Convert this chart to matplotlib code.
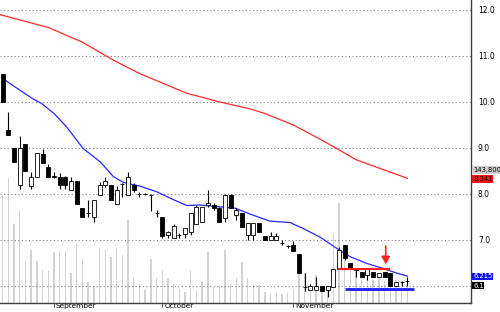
import matplotlib
matplotlib.use("Agg")
import matplotlib.pyplot as plt
import matplotlib.transforms as mtransforms

# daily candles (Aug -> Nov)
opens = [10.60, 9.39, 8.99, 8.20, 9.08, 8.18, 8.38, 8.88, 8.58, 8.40,
         8.38, 8.38, 8.09, 8.29, 7.69, 7.58, 7.49, 7.98, 8.20, 8.20,
         7.78, 8.22, 7.98, 8.20, 8.00, 8.00, 7.98, 7.58, 7.49, 7.10,
         7.05, 7.10, 7.12, 7.18, 7.35, 7.40, 7.75, 7.76, 7.69, 7.47,
         7.98, 7.55, 7.58, 7.11, 7.11, 7.38, 7.09, 7.00, 7.00, 6.93,
         6.88, 6.89, 6.69, 5.98, 5.91, 5.92, 5.99, 5.92, 5.98, 6.38,
         6.89, 6.49, 6.35, 6.31, 6.24, 6.31, 6.20, 6.31, 6.28, 6.00,
         6.09, 6.10]
highs = [10.60, 9.79, 8.99, 9.26, 9.08, 8.47, 8.90, 8.98, 8.65, 8.47,
         8.45, 8.40, 8.38, 8.29, 7.69, 7.87, 7.88, 8.25, 8.38, 8.20,
         8.17, 8.24, 8.47, 8.24, 8.05, 8.03, 8.00, 7.65, 7.49, 7.20,
         7.35, 7.15, 7.27, 7.58, 7.76, 7.72, 8.08, 7.80, 7.72, 8.01,
         8.00, 7.70, 7.58, 7.38, 7.38, 7.38, 7.09, 7.18, 7.15, 7.00,
         6.90, 6.98, 6.69, 6.28, 6.05, 6.20, 5.99, 6.00, 6.38, 6.85,
         6.89, 6.49, 6.38, 6.31, 6.38, 6.31, 6.28, 6.31, 6.28, 6.08,
         6.10, 6.20]
lows = [10.00, 9.28, 8.69, 8.10, 8.49, 8.10, 8.38, 8.67, 8.38, 8.35,
        8.10, 8.10, 8.09, 7.78, 7.49, 7.51, 7.40, 7.98, 8.16, 7.87,
        7.78, 7.94, 7.98, 8.05, 7.94, 7.97, 7.62, 7.50, 7.05, 7.05,
        7.05, 7.05, 7.05, 7.10, 7.35, 7.40, 7.72, 7.66, 7.40, 7.40,
        7.69, 7.43, 7.29, 7.00, 7.00, 7.18, 7.00, 7.00, 7.00, 6.90,
        6.82, 6.75, 6.28, 5.90, 5.91, 5.92, 5.90, 5.77, 5.98, 6.38,
        6.57, 6.38, 6.20, 6.20, 6.13, 6.20, 6.20, 6.20, 5.99, 6.00,
        6.00, 5.99]
closes = [10.00, 9.28, 8.69, 8.99, 8.49, 8.38, 8.90, 8.67, 8.38, 8.38,
          8.20, 8.20, 8.29, 7.78, 7.49, 7.58, 7.88, 8.19, 8.28, 7.87,
          8.09, 8.22, 8.38, 8.09, 8.00, 8.00, 7.98, 7.58, 7.09, 7.18,
          7.30, 7.10, 7.25, 7.58, 7.72, 7.72, 7.80, 7.69, 7.40, 7.98,
          7.69, 7.65, 7.29, 7.38, 7.38, 7.18, 7.00, 7.09, 7.09, 6.93,
          6.88, 6.75, 6.28, 5.98, 6.00, 6.00, 5.90, 6.00, 6.38, 6.78,
          6.60, 6.38, 6.38, 6.20, 6.38, 6.20, 6.28, 6.20, 5.99, 6.08,
          6.09, 6.10]
# volume in thousands of shares
volumes = [629, 728, 460, 541, 246, 308, 246, 192, 188, 299,
           303, 304, 176, 343, 256, 122, 101, 318, 308, 268,
           318, 279, 483, 151, 105, 76, 254, 144, 192, 144,
           111, 80, 66, 192, 76, 130, 299, 95, 105, 308,
           111, 144, 236, 144, 95, 105, 66, 60, 56, 52,
           60, 80, 246, 176, 115, 163, 87, 95, 406, 580,
           250, 192, 192, 144, 176, 134, 153, 130, 163, 134,
           130, 143.8]

# moving averages, sampled points (day index, price)
fast_ma_days = [0, 2.5, 5.4, 6.8, 9, 11.2, 14.1, 17.1, 19.4, 21.2, 24.1, 27, 29.9,
                32.3, 34.6, 38.1, 40.8, 43.9, 46.9, 50.4, 52.7, 55.7,
                58.6, 60.9, 63.9, 66.8, 69.1, 71]
fast_ma = [10.51, 10.30, 10.06, 9.97, 9.75, 9.46, 8.99, 8.70, 8.38, 8.25, 8.17, 8.05, 7.88,
           7.75, 7.76, 7.72, 7.69, 7.54, 7.41, 7.38, 7.25, 7.06,
           6.82, 6.64, 6.49, 6.38, 6.28, 6.215]
slow_ma_days = [-0.5, 8, 14, 19.4, 24, 28.8, 32.3, 38.1, 43.4, 46, 51, 56, 62.1, 67, 71]
slow_ma = [11.90, 11.62, 11.30, 10.91, 10.62, 10.37, 10.19, 10.00, 9.85, 9.75, 9.50, 9.17,
           8.74, 8.52, 8.341]

month_days = [9, 28, 51]
month_names = ["September", "October", "November"]

support = [5.93, 60, 72.2]      # price, from day, to day
resistance = [6.38, 58.8, 68]
arrow_day, arrow_top, arrow_tip = 67.2, 6.93, 6.41

right_labels = ["143,800", "8.341", "6.215", "6.1"]

fig = plt.figure(figsize=(5, 3.12), dpi=100)
ax = fig.add_axes([0, 9 / 312, 471 / 500, 303 / 312])
axv = ax.twinx()
ax.set_zorder(2)
axv.set_zorder(1)
ax.patch.set_visible(False)

days = list(range(len(closes)))
axv.bar(days, volumes, width=0.25, color="#d2d2d2", linewidth=0)
axv.set_ylim(0, 1763)
axv.set_yticks([])
for s in axv.spines.values():
    s.set_visible(False)

# grid
for p in [6, 7, 8, 9, 10, 11, 12]:
    ax.axhline(p, color="#808080", lw=0.8, ls=(0, (1, 2.2)), zorder=0)

ax.plot(slow_ma_days, slow_ma, color="#ff2a2a", lw=0.9, zorder=2)
ax.plot(fast_ma_days, fast_ma, color="#2828ff", lw=0.9, zorder=2)

# candles
ax.vlines(days, lows, highs, color="black", lw=0.8, zorder=3)
for d, o, c in zip(days, opens, closes):
    face = "black" if c < o else "white"
    ax.bar(d, abs(c - o), bottom=min(o, c), width=0.7, color=face,
           edgecolor="black", linewidth=0.6, zorder=4)

ax.hlines(resistance[0], resistance[1], resistance[2], color="#ff2020", lw=1.6, zorder=5)
ax.hlines(support[0], support[1], support[2], color="#1a1aff", lw=2.0, zorder=5)
ax.annotate("", xy=(arrow_day, arrow_tip), xytext=(arrow_day, arrow_top),
            arrowprops=dict(arrowstyle="-|>,head_length=0.45,head_width=0.25",
                            color="#ff2020", lw=1.2), zorder=6)

ax.set_xlim(-0.47, 82.16)
ax.set_ylim(5.63, 12.217)

ax.yaxis.tick_right()
ax.set_yticks([7, 8, 9, 10, 11, 12])
ax.set_yticklabels(["7.0", "8.0", "9.0", "10.0", "11.0", "12.0"], fontsize=5.5)
ax.tick_params(axis="y", length=0, pad=5)

ax.set_xticks(month_days)
ax.set_xticklabels(month_names, fontsize=5.3)
ax.tick_params(axis="x", direction="out", length=3, width=0.6, pad=-3.2, color="#303030")
shift = mtransforms.ScaledTranslation(2 / 100, 0, fig.dpi_scale_trans)
for lab in ax.get_xticklabels():
    lab.set_horizontalalignment("left")
    lab.set_transform(lab.get_transform() + shift)

for side in ["left", "top"]:
    ax.spines[side].set_visible(False)
ax.spines["right"].set_color("#404040")
ax.spines["bottom"].set_color("#404040")
ax.spines["right"].set_linewidth(1.0)
ax.spines["bottom"].set_linewidth(1.0)

# value boxes on the right
box_y = [170, 179, 276.5, 285.5]
box_bg = ["#cfcfcf", "#ff1010", "#1010ff", "black"]
box_fg = ["black", "black", "white", "white"]
for txt, y, bg, fg in zip(right_labels, box_y, box_bg, box_fg):
    fig.text(473 / 500, 1 - y / 312, txt, fontsize=4.9, color=fg, va="center", ha="left",
             bbox=dict(boxstyle="square,pad=0.1", fc=bg, ec="none"))

fig.savefig("out.png", dpi=100)
